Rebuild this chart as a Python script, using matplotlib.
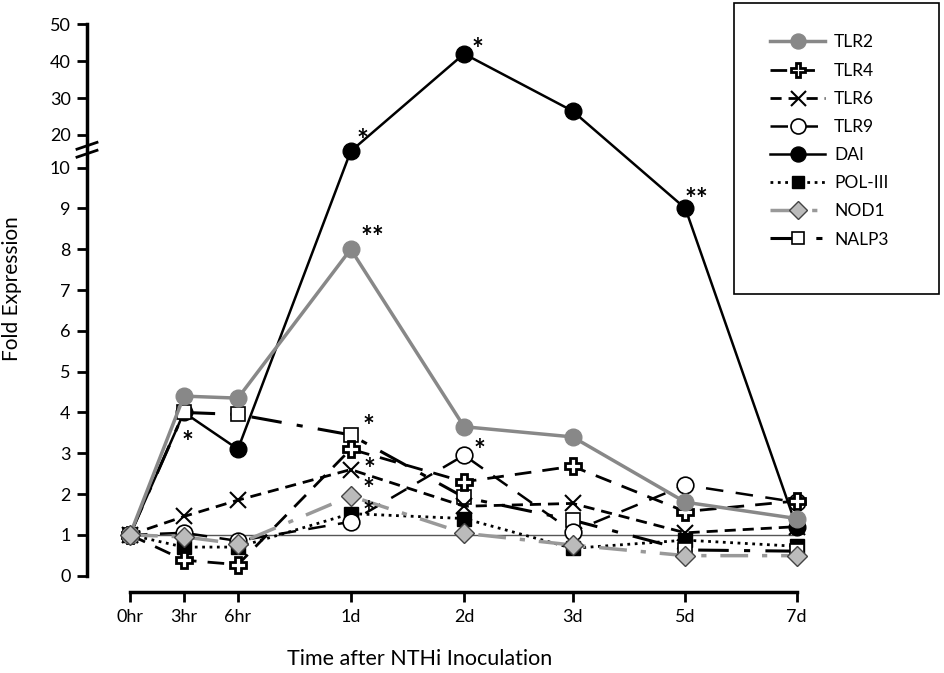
import numpy as np
import matplotlib
matplotlib.use("Agg")
import matplotlib.pyplot as plt
from matplotlib.patches import Rectangle

plt.rcParams['font.family'] = ['Lato', 'DejaVu Sans']

times = ['0hr', '3hr', '6hr', '1d', '2d', '3d', '5d', '7d']
# uneven spacing on the time axis, as in the figure
xpos = [0, 1, 2, 4.09, 6.19, 8.2, 10.29, 12.35]

tlr2 = [1.0, 4.4, 4.35, 8.0, 3.65, 3.4, 1.8, 1.4]
tlr4 = [1.0, 0.38, 0.27, 3.1, 2.3, 2.68, 1.57, 1.83]
tlr6 = [1.0, 1.45, 1.85, 2.6, 1.7, 1.77, 1.05, 1.2]
tlr9 = [1.0, 1.05, 0.85, 1.32, 2.95, 1.08, 2.22, 1.8]
dai = [1.0, 4.0, 3.1, 15.0, 42.0, 26.5, 9.0, 1.2]
pol3 = [1.0, 0.7, 0.7, 1.52, 1.4, 0.67, 0.87, 0.72]
nod1 = [1.0, 0.95, 0.78, 1.95, 1.04, 0.75, 0.49, 0.49]
nalp3 = [1.0, 4.0, 3.95, 3.45, 1.92, 1.36, 0.63, 0.6]

yticks = [0, 1, 2, 3, 4, 5, 6, 7, 8, 9, 10, 20, 30, 40, 50]

# significance marks (x, y, text)
star_x = [4.31, 6.44, 10.5, 4.5, 1.07, 4.41, 4.43, 4.41, 4.41, 6.48]
star_y = [18.2, 43.1, 9.21, 8.28, 3.26, 3.65, 2.6, 2.11, 1.54, 3.06]
star_txt = ['*', '*', '**', '**', '*', '*', '*', '*', '*', '*']


# broken axis: 0-10 linear, 10-20 squeezed, 20-50 compressed
def fwd(y):
    y = np.asarray(y, dtype=float)
    return np.where(y <= 10, y,
                    np.where(y <= 20, 10 + (y - 10) * 0.08,
                             10.8 + (y - 20) * 0.0904))


def inv(t):
    t = np.asarray(t, dtype=float)
    return np.where(t <= 10, t,
                    np.where(t <= 10.8, 10 + (t - 10) / 0.08,
                             20 + (t - 10.8) / 0.0904))


fig = plt.figure(figsize=(9.45, 6.73), dpi=100)
ax = fig.add_axes([0.0924, 0.1204, 0.7648, 0.8435])
ax.set_yscale('function', functions=(fwd, inv))
ax.set_ylim(-0.4, 50)
ax.set_xlim(-0.79, 12.6)

ax.plot([xpos[0], xpos[-1]], [1, 1], color='#555555', lw=1, zorder=1)

ax.plot(xpos, dai, color='black', lw=1.8, marker='o', ms=12,
        mfc='black', mec='black', label='DAI', zorder=2)
ax.plot(xpos, pol3, color='black', lw=2, ls=':', marker='s', ms=10,
        mfc='black', mec='black', label='POL-III', zorder=3)
ax.plot(xpos, nalp3, color='black', lw=2.2, dashes=(10, 5, 2, 5),
        marker='s', ms=10, mfc='white', mec='black', mew=1.2,
        label='NALP3', zorder=4)
ax.plot(xpos, tlr6, color='black', lw=2, dashes=(4, 2.5), marker='x',
        ms=12, mew=1.5, label='TLR6', zorder=5)
ax.plot(xpos, tlr9, color='black', lw=1.8, dashes=(7, 5), marker='o',
        ms=12, mfc='white', mec='black', mew=1.2, label='TLR9', zorder=6)
ax.plot(xpos, tlr4, color='black', lw=2, dashes=(6, 4), marker='P',
        ms=11, mfc='white', mec='black', mew=2, label='TLR4', zorder=7)
ax.plot(xpos, tlr2, color='#888888', lw=2.5, marker='o', ms=12,
        mfc='#888888', mec='#888888', label='TLR2', zorder=8)
ax.plot(xpos, nod1, color='#999999', lw=2.5, dashes=(8, 4, 1.5, 4),
        marker='D', ms=10, mfc='#bbbbbb', mec='#444444', mew=1,
        label='NOD1', zorder=9)

for sx, sy, s in zip(star_x, star_y, star_txt):
    ax.text(sx, sy, s, fontsize=20, fontweight='bold', ha='center',
            va='center', zorder=10)

for side in ['top', 'right']:
    ax.spines[side].set_visible(False)
ax.spines['left'].set_bounds(0, 50)
ax.spines['left'].set_linewidth(2.5)
ax.spines['bottom'].set_bounds(xpos[0], xpos[-1])
ax.spines['bottom'].set_linewidth(2.5)

ax.set_yticks(yticks)
ax.set_yticklabels([str(v) for v in yticks])
ax.yaxis.set_minor_locator(plt.NullLocator())
ax.set_xticks(xpos)
ax.set_xticklabels(times)
ax.tick_params(axis='both', direction='out', length=7, width=2,
               labelsize=13, pad=5)

# axis break marks
for yb in [0.772, 0.786]:
    ax.plot([-0.0143, 0.0134], [yb - 0.006, yb + 0.006],
            transform=ax.transAxes, color='black', lw=2, clip_on=False,
            zorder=11)

ax.set_ylabel('Fold Expression', fontsize=15)
ax.yaxis.set_label_coords(-0.091, 0.535)
ax.set_xlabel('Time after NTHi Inoculation', fontsize=15.5)
ax.xaxis.set_label_coords(0.46, -0.1)

fig.patches.append(Rectangle((0.7767, 0.5632), 0.2169, 0.4324,
                             transform=fig.transFigure, fill=False,
                             ec='black', lw=1.2))
order = ['TLR2', 'TLR4', 'TLR6', 'TLR9', 'DAI', 'POL-III', 'NOD1', 'NALP3']
h, l = ax.get_legend_handles_labels()
hmap = dict(zip(l, h))
fig.legend([hmap[k] for k in order], order, loc='upper left',
           bbox_to_anchor=(0.798, 0.972), frameon=False, fontsize=12.5,
           handlelength=3.2, labelspacing=0.7, handletextpad=0.5,
           markerscale=0.9)

fig.savefig('out.png', dpi=100)
